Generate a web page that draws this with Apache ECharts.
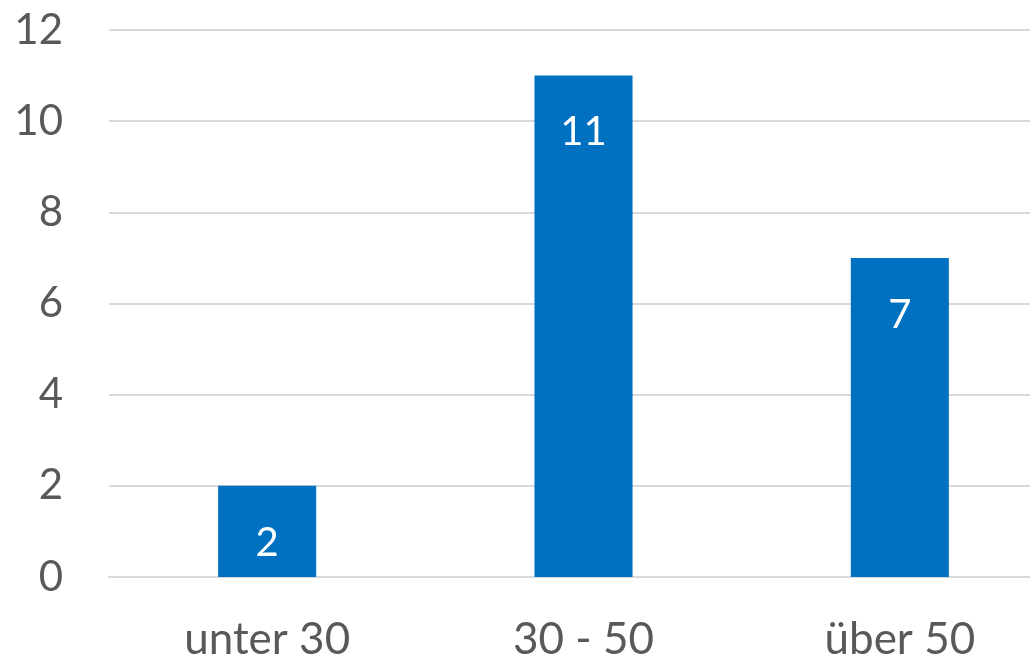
<!DOCTYPE html>
<html><head><meta charset="utf-8">
<script src="https://cdn.jsdelivr.net/npm/echarts@6/dist/echarts.min.js"></script>
<style>html,body{margin:0;padding:0;background:#fff;overflow:hidden;width:1030px;height:657px}#c{width:1060px;height:657px}</style>
</head><body><div id="c"></div>
<script>
const categories = ['unter 30', '30 - 50', 'über 50'];
const values = [2, 11, 7];
const yTicks = [0, 2, 4, 6, 8, 10, 12];

const chart = echarts.init(document.getElementById('c'));
chart.setOption({
  animation: false,
  grid: { left: 109, right: 2, top: 30, bottom: 80, outerBoundsMode: 'none', containLabel: false },
  xAxis: {
    type: 'category', data: categories,
    axisLine: { show: true, lineStyle: { color: '#d9d9d9', width: 2 } },
    axisTick: { show: false },
    axisLabel: { color: '#595959', fontSize: 44, fontFamily: 'Lato', margin: 41 }
  },
  yAxis: {
    type: 'value', min: yTicks[0], max: yTicks[yTicks.length - 1], interval: 2,
    axisLine: { show: false }, axisTick: { show: false },
    splitLine: { lineStyle: { color: '#d9d9d9', width: 2 } },
    axisLabel: { color: '#595959', fontSize: 42, fontFamily: 'Lato', margin: 46 }
  },
  series: [{
    type: 'bar', data: values, barWidth: '31%',
    itemStyle: { color: '#0070c0' },
    label: { show: true, position: 'insideTop', distance: 37, color: '#fff', fontSize: 40, fontFamily: 'Lato' }
  }]
});
</script></body></html>
